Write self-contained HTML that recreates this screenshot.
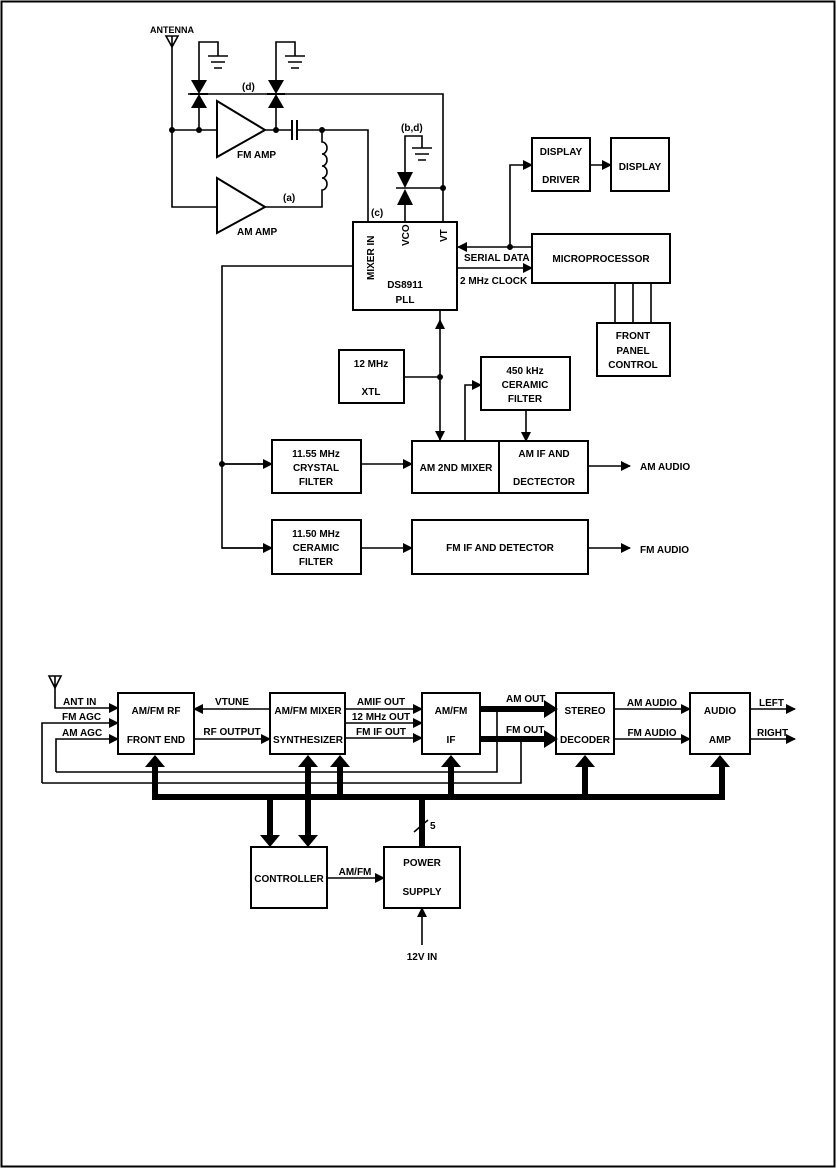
<!DOCTYPE html>
<html><head><meta charset="utf-8"><style>
html,body{margin:0;padding:0;background:#fff;}
svg{display:block;}
text{font-family:"Liberation Sans",sans-serif;font-size:10px;font-weight:bold;fill:#000;}
</style></head><body>
<svg width="837" height="1169" viewBox="0 0 837 1169" xmlns="http://www.w3.org/2000/svg">
<defs>
<marker id="a" markerWidth="10" markerHeight="10" refX="9" refY="5" orient="auto" markerUnits="userSpaceOnUse"><path d="M0,0 L10,5 L0,10 z" fill="#000"/></marker>
<marker id="as" markerWidth="10" markerHeight="10" refX="1" refY="5" orient="auto" markerUnits="userSpaceOnUse"><path d="M10,0 L0,5 L10,10 z" fill="#000"/></marker>
</defs>
<rect x="1.5" y="1.5" width="833" height="1165" fill="none" stroke="#000" stroke-width="2"/>

<g fill="none" stroke="#000" stroke-width="1.6">
<!-- antenna -->
<path d="M166,36 L178,36 L172,47 z M172,36 L172,47"/>
<path d="M172,47 V207 H217"/>
<path d="M172,130 H217"/>
<!-- diodes column 1 -->
<path d="M199,130 V108 M199,80 V42 H218 V56"/>
<path d="M208,56 H228 M211,62 H225 M214,68 H222"/>
<!-- diode column 2 -->
<path d="M276,130 V108 M276,80 V42 H295 V56"/>
<path d="M285,56 H305 M288,62 H302 M291,68 H299"/>
<!-- line d -->
<path d="M188,94 H443 V222"/>
<!-- FM amp -->
<path d="M217,101 L265,130 L217,157 z" stroke-width="2"/>
<path d="M265,130 H292 M297,130 H322 H368 V222"/>
<path d="M292,120 V140 M297,120 V140" stroke-width="2"/>
<!-- inductor -->
<path d="M322,130 V142 a5,6 0 0 1 0,12 a5,6 0 0 1 0,12 a5,6 0 0 1 0,12 a5,6 0 0 1 0,12 V207 H265"/>
<!-- AM amp -->
<path d="M217,178 L265,207 L217,233 z" stroke-width="2"/>
<!-- VCO diodes -->
<path d="M405,222 V205 M405,172 V136 H422 V148"/>
<path d="M412,148 H432 M415,154 H429 M418,160 H426"/>
<path d="M396,188 H414 M405,188 H443"/>
<!-- PLL box -->
<rect x="353" y="222" width="104" height="88" stroke-width="2"/>
<path d="M353,266 H222 V548 H272"/>
<path d="M222,464 H272"/>
<!-- display -->
<rect x="532" y="138" width="58" height="53" stroke-width="2"/>
<rect x="611" y="138" width="58" height="53" stroke-width="2"/>
<rect x="532" y="234" width="138" height="49" stroke-width="2"/>
<rect x="597" y="323" width="73" height="53" stroke-width="2"/>
<path d="M615,283 V323 M633,283 V323 M651,283 V323"/>
<path d="M510,247 V165 H532" marker-end="url(#a)"/>
<path d="M590,165 H611" marker-end="url(#a)"/>
<path d="M532,247 H458" marker-end="url(#a)"/>
<path d="M458,268 H532" marker-end="url(#a)"/>
<!-- xtl -->
<path d="M440,320 V440" marker-end="url(#a)" marker-start="url(#as)"/>
<path d="M440,311 V320"/>
<rect x="339" y="350" width="65" height="53" stroke-width="2"/>
<path d="M404,377 H440"/>
<rect x="481" y="357" width="89" height="53" stroke-width="2"/>
<path d="M465,441 V385 H481" marker-end="url(#a)"/>
<path d="M526,410 V441" marker-end="url(#a)"/>
<rect x="272" y="440" width="89" height="53" stroke-width="2"/>
<rect x="412" y="441" width="176" height="52" stroke-width="2"/>
<path d="M499,441 V493" stroke-width="2"/>
<path d="M222,464 H272" marker-end="url(#a)"/>
<path d="M361,464 H412" marker-end="url(#a)"/>
<path d="M588,466 H630" marker-end="url(#a)"/>
<rect x="272" y="520" width="89" height="54" stroke-width="2"/>
<rect x="412" y="520" width="176" height="54" stroke-width="2"/>
<path d="M222,548 H272" marker-end="url(#a)"/>
<path d="M361,548 H412" marker-end="url(#a)"/>
<path d="M588,548 H630" marker-end="url(#a)"/>

<!-- bottom diagram -->
<path d="M49,676 L61,676 L55,688 z M55,676 V688"/>
<path d="M55,688 V708 H118" marker-end="url(#a)"/>
<path d="M42,783 V723 H118" marker-end="url(#a)"/>
<path d="M56,772 V739 H118" marker-end="url(#a)"/>
<path d="M42,783 H521 V739"/>
<path d="M56,772 H497 V709"/>
<rect x="118" y="693" width="76" height="61" stroke-width="2"/>
<rect x="270" y="693" width="75" height="61" stroke-width="2"/>
<rect x="422" y="693" width="58" height="61" stroke-width="2"/>
<rect x="556" y="693" width="58" height="61" stroke-width="2"/>
<rect x="690" y="693" width="60" height="61" stroke-width="2"/>
<path d="M270,709 H194" marker-end="url(#a)"/>
<path d="M194,739 H270" marker-end="url(#a)"/>
<path d="M345,709 H422" marker-end="url(#a)"/>
<path d="M345,723 H422" marker-end="url(#a)"/>
<path d="M345,738 H422" marker-end="url(#a)"/>
<path d="M614,709 H690" marker-end="url(#a)"/>
<path d="M614,739 H690" marker-end="url(#a)"/>
<path d="M750,709 H795" marker-end="url(#a)"/>
<path d="M750,739 H795" marker-end="url(#a)"/>
<rect x="251" y="847" width="76" height="61" stroke-width="2"/>
<rect x="384" y="847" width="76" height="61" stroke-width="2"/>
<path d="M327,878 H384" marker-end="url(#a)"/>
<path d="M422,945 V908" marker-end="url(#a)"/>
</g>

<!-- diode triangles -->
<g fill="#000">
<path d="M191,80 L207,80 L199,94 z"/><path d="M191,108 L207,108 L199,94 z"/>
<path d="M268,80 L284,80 L276,94 z"/><path d="M268,108 L284,108 L276,94 z"/>
<path d="M397,172 L413,172 L405,188 z"/><path d="M397,205 L413,205 L405,189 z"/>
<rect x="190" y="93" width="18" height="2"/><rect x="267" y="93" width="18" height="2"/>
<circle cx="172" cy="130" r="3"/><circle cx="199" cy="130" r="3"/><circle cx="276" cy="130" r="3"/><circle cx="322" cy="130" r="3"/>
<circle cx="443" cy="188" r="3"/><circle cx="510" cy="247" r="3"/><circle cx="440" cy="377" r="3"/><circle cx="222" cy="464" r="3"/>
</g>

<!-- thick bus -->
<g fill="none" stroke="#000" stroke-width="6">
<path d="M155,766 V797 H722 V766"/>
<path d="M480,709 H544 M480,739 H544"/>
<path d="M308,766 V836 M340,766 V797 M451,766 V797 M585,766 V797 M270,797 V836 M422,797 V847"/>
</g>
<g fill="#000">
<path d="M544,700 L558,709 L544,718 z M544,730 L558,739 L544,748 z"/>
<path d="M145,767 L165,767 L155,755 z M298,767 L318,767 L308,755 z M330,767 L350,767 L340,755 z M441,767 L461,767 L451,755 z M575,767 L595,767 L585,755 z M710,767 L730,767 L720,755 z"/>
<path d="M260,835 L280,835 L270,847 z M298,835 L318,835 L308,847 z"/>
<circle cx="497" cy="709" r="2.5"/><circle cx="521" cy="739" r="2.5"/>
</g>
<path d="M414,832 L428,820" stroke="#000" stroke-width="1.5"/>

<!-- texts -->
<text x="150" y="33" style="font-size:9px">ANTENNA</text>
<text x="242" y="90">(d)</text>
<text x="237" y="158">FM AMP</text>
<text x="237" y="235">AM AMP</text>
<text x="283" y="201">(a)</text>
<text x="371" y="216">(c)</text>
<text x="401" y="131">(b,d)</text>
<text transform="translate(374,280) rotate(-90)">MIXER IN</text>
<text transform="translate(409,246) rotate(-90)">VCO</text>
<text transform="translate(447,242) rotate(-90)">VT</text>
<text x="405" y="288" text-anchor="middle">DS8911</text>
<text x="405" y="303" text-anchor="middle">PLL</text>
<text x="464" y="261">SERIAL DATA</text>
<text x="460" y="284">2 MHz CLOCK</text>
<text x="561" y="155" text-anchor="middle">DISPLAY</text>
<text x="561" y="183" text-anchor="middle">DRIVER</text>
<text x="640" y="170" text-anchor="middle">DISPLAY</text>
<text x="601" y="262" text-anchor="middle">MICROPROCESSOR</text>
<text x="633" y="339" text-anchor="middle">FRONT</text>
<text x="633" y="354" text-anchor="middle">PANEL</text>
<text x="633" y="368" text-anchor="middle">CONTROL</text>
<text x="371" y="367" text-anchor="middle">12 MHz</text>
<text x="371" y="395" text-anchor="middle">XTL</text>
<text x="525" y="374" text-anchor="middle">450 kHz</text>
<text x="525" y="388" text-anchor="middle">CERAMIC</text>
<text x="525" y="402" text-anchor="middle">FILTER</text>
<text x="316" y="457" text-anchor="middle">11.55 MHz</text>
<text x="316" y="471" text-anchor="middle">CRYSTAL</text>
<text x="316" y="485" text-anchor="middle">FILTER</text>
<text x="456" y="471" text-anchor="middle">AM 2ND MIXER</text>
<text x="544" y="457" text-anchor="middle">AM IF AND</text>
<text x="544" y="485" text-anchor="middle">DECTECTOR</text>
<text x="640" y="470">AM AUDIO</text>
<text x="316" y="537" text-anchor="middle">11.50 MHz</text>
<text x="316" y="551" text-anchor="middle">CERAMIC</text>
<text x="316" y="565" text-anchor="middle">FILTER</text>
<text x="500" y="551" text-anchor="middle">FM IF AND DETECTOR</text>
<text x="640" y="553">FM AUDIO</text>

<text x="63" y="705">ANT IN</text>
<text x="62" y="720">FM AGC</text>
<text x="62" y="736">AM AGC</text>
<text x="156" y="714" text-anchor="middle">AM/FM RF</text>
<text x="156" y="743" text-anchor="middle">FRONT END</text>
<text x="232" y="705" text-anchor="middle">VTUNE</text>
<text x="232" y="735" text-anchor="middle">RF OUTPUT</text>
<text x="308" y="714" text-anchor="middle">AM/FM MIXER</text>
<text x="308" y="743" text-anchor="middle">SYNTHESIZER</text>
<text x="381" y="705" text-anchor="middle">AMIF OUT</text>
<text x="381" y="720" text-anchor="middle">12 MHz OUT</text>
<text x="381" y="735" text-anchor="middle">FM IF OUT</text>
<text x="451" y="714" text-anchor="middle">AM/FM</text>
<text x="451" y="743" text-anchor="middle">IF</text>
<text x="506" y="702">AM OUT</text>
<text x="506" y="733">FM OUT</text>
<text x="585" y="714" text-anchor="middle">STEREO</text>
<text x="585" y="743" text-anchor="middle">DECODER</text>
<text x="652" y="706" text-anchor="middle">AM AUDIO</text>
<text x="652" y="736" text-anchor="middle">FM AUDIO</text>
<text x="720" y="714" text-anchor="middle">AUDIO</text>
<text x="720" y="743" text-anchor="middle">AMP</text>
<text x="759" y="706">LEFT</text>
<text x="757" y="736">RIGHT</text>
<text x="289" y="882" text-anchor="middle">CONTROLLER</text>
<text x="355" y="875" text-anchor="middle">AM/FM</text>
<text x="422" y="866" text-anchor="middle">POWER</text>
<text x="422" y="895" text-anchor="middle">SUPPLY</text>
<text x="430" y="829">5</text>
<text x="422" y="960" text-anchor="middle">12V IN</text>
</svg>
</body></html>
